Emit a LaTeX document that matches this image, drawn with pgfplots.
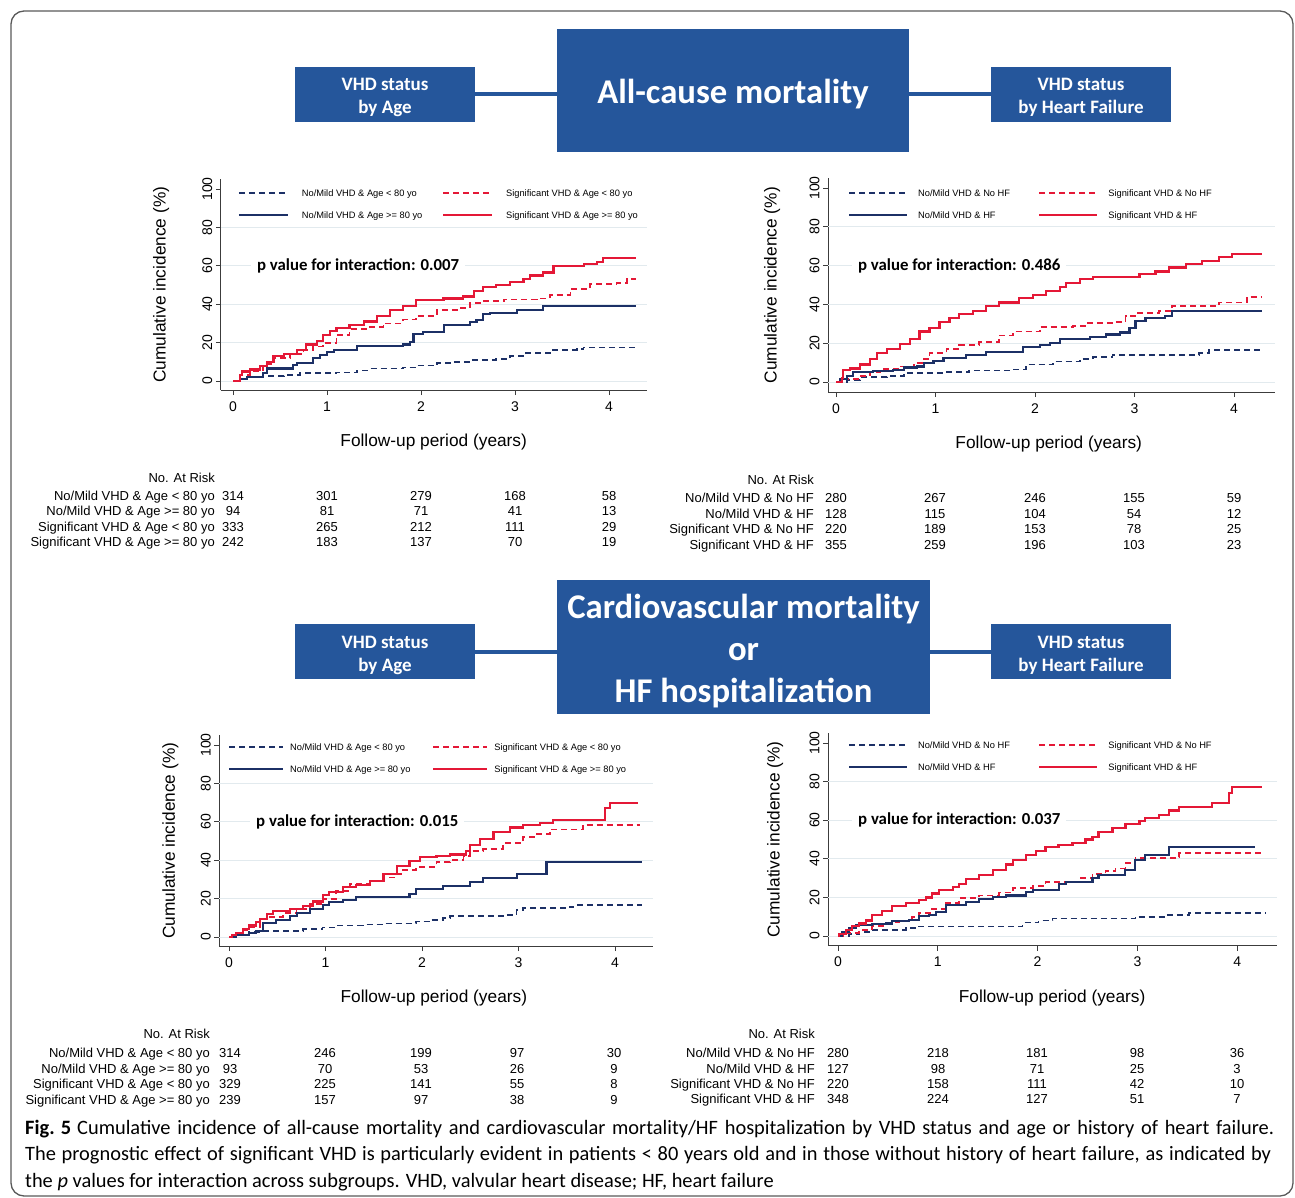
\documentclass[border=0pt]{standalone}
\usepackage{fontspec}
\setmainfont{Liberation Sans}
\newfontfamily\carlito{Carlito}
\usepackage{pgfplots}
\pgfplotsset{compat=1.18}

\definecolor{navyc}{RGB}{28,48,102}
\definecolor{redc}{RGB}{228,24,54}
\definecolor{boxblue}{RGB}{37,86,155}
\definecolor{gridc}{RGB}{226,234,238}
\definecolor{axc}{RGB}{60,60,60}

\newcommand\tickfont{\fontsize{14}{16}\selectfont}
\newcommand\labfont{\fontsize{17.3}{20}\selectfont}
\newcommand\legfont{\fontsize{9.3}{11}\selectfont}
\newcommand\tabfont{\fontsize{13}{15}\selectfont}
\newcommand\pfont{\carlito\bfseries\fontsize{16.8}{19}\selectfont}
\newcommand\capfont{\carlito\fontsize{20.4}{22}\selectfont}
\newcommand\hsmall{\carlito\bfseries\fontsize{19}{23}\selectfont}
\newcommand\hbig{\carlito\bfseries\fontsize{34.7}{42}\selectfont}
\newcommand\strt{\rule[-7.5pt]{0pt}{22pt}}
\newcommand\lentry[3]{\addlegendentry{\hspace*{#1pt}\makebox[#2pt][l]{#3\strt}}}

\newcommand\riskrow[7]{%
  \node[anchor=base east, font=\tabfont, inner sep=0pt] at (\labx pt,-#1pt) {#2};
  \node[anchor=base, font=\tabfont, inner sep=0pt] at (\cA pt,-#1pt) {#3};
  \node[anchor=base, font=\tabfont, inner sep=0pt] at (\cB pt,-#1pt) {#4};
  \node[anchor=base, font=\tabfont, inner sep=0pt] at (\cC pt,-#1pt) {#5};
  \node[anchor=base, font=\tabfont, inner sep=0pt] at (\cD pt,-#1pt) {#6};
  \node[anchor=base, font=\tabfont, inner sep=0pt] at (\cE pt,-#1pt) {#7};
}

\pgfplotsset{
 km/.style={
  axis lines=left,
  axis line style={-, draw=axc, line width=0.9pt},
  tick align=outside,
  major tick length=5pt,
  tick style={draw=axc, line width=0.9pt},
  xtick={0,1,2,3,4},
  ytick={0,20,40,60,80,100},
  /pgf/number format/assume math mode=true,
  ticklabel style={font=\tickfont},
  xticklabel style={yshift=-3pt},
  yticklabel style={rotate=90, anchor=south},
  label style={font=\labfont},
  xlabel={Follow-up period (years)},
  ylabel={Cumulative incidence (\%)},
  extra y ticks={0,20,40,60,80},
  extra y tick labels={},
  extra y tick style={grid=major, major tick length=0pt},
  grid style={draw=gridc, line width=0.9pt},
  const plot,
  legend columns=2,
  legend cell align=left,
  legend style={draw=none, fill=none, anchor=north west, font=\legfont,
     inner sep=0pt, outer sep=0pt, nodes={inner sep=0pt, outer sep=0pt},
     column sep=0pt, row sep=6pt},
  anchor=origin,
 },
 dn/.style={draw=navyc, line width=1.7pt, dash pattern=on 6pt off 4pt},
 dr/.style={draw=redc, line width=1.8pt, dash pattern=on 6pt off 4pt},
 sn/.style={draw=navyc, line width=2.1pt},
 sr/.style={draw=redc, line width=2.2pt},
}

\begin{document}
\begin{tikzpicture}
\useasboundingbox (0pt,0pt) rectangle (1295pt,-1198pt);
\draw[black!65, line width=1.3pt, rounded corners=13pt] (11pt,-11pt) rectangle (1293pt,-1196pt);

% ---------- headers ----------
\draw[boxblue, line width=4pt] (475pt,-94pt) -- (991pt,-94pt);
\fill[boxblue] (295pt,-67pt) rectangle (475pt,-122pt);
\fill[boxblue] (557pt,-29pt) rectangle (909pt,-152pt);
\fill[boxblue] (991pt,-67pt) rectangle (1171pt,-122pt);
\node[inner sep=0pt, text=white, align=center, font=\hsmall] at (385pt,-97.5pt) {VHD status\\by Age};
\node[inner sep=0pt, text=white, font=\hbig] at (733pt,-94.5pt) {All-cause mortality};
\node[inner sep=0pt, text=white, align=center, font=\hsmall] at (1081pt,-97.5pt) {VHD status\\by Heart Failure};

\draw[boxblue, line width=4pt] (475pt,-652pt) -- (991pt,-652pt);
\fill[boxblue] (295pt,-624pt) rectangle (475pt,-679pt);
\fill[boxblue] (557pt,-580pt) rectangle (930pt,-714pt);
\fill[boxblue] (991pt,-624pt) rectangle (1171pt,-679pt);
\node[inner sep=0pt, text=white, align=center, font=\hsmall] at (385pt,-655.5pt) {VHD status\\by Age};
\node[inner sep=0pt, text=white, align=center, font=\hbig] at (743.5pt,-651pt) {Cardiovascular mortality\\or\\HF hospitalization};
\node[inner sep=0pt, text=white, align=center, font=\hsmall] at (1081pt,-655.5pt) {VHD status\\by Heart Failure};

% ---------- panel 1 ----------
\begin{axis}[km, x=94pt, y=1.92pt, at={(233pt,-381pt)},
  xmin=-0.13, xmax=4.4, ymin=-4.7, ymax=105,
  ylabel style={at={(axis description cs:-0.140,0.5)}, anchor=center},
  xlabel style={at={(axis description cs:0.5,-0.247)}, anchor=center},
  legend style={at={(0.040,0.987)}},
  legend image code/.code={\draw[#1] (0pt,-2.7pt) -- (49pt,-2.7pt);}]
\addplot[dn] coordinates {(0,0) (0.074,1) (0.18,2) (0.32,2.5) (0.54,3) (0.71,4) (1.10,4.5) (1.32,5.5) (1.46,6.5) (1.81,7) (1.95,8) (2.17,9.5) (2.31,10) (2.52,11) (2.80,11.5) (2.95,13) (3.12,14.5) (3.37,16) (3.66,16.5) (3.73,17.5) (4.29,17.5)};
\lentry{13}{140}{No/Mild VHD \& Age < 80 yo}
\addplot[dr] coordinates {(0,0) (0.074,3) (0.18,5) (0.32,9) (0.43,12) (0.61,14) (0.75,16) (0.85,18) (0.96,20) (1.10,24) (1.24,27) (1.46,28) (1.60,30) (1.81,32) (1.95,34) (2.17,37) (2.38,38) (2.52,40.5) (2.66,41.5) (2.88,42.5) (3.23,43) (3.37,45) (3.59,48) (3.80,50.5) (4.08,51) (4.19,53) (4.29,53)};
\lentry{13}{140}{Significant VHD \& Age < 80 yo}
\addplot[sn] coordinates {(0,0) (0.074,1) (0.145,2) (0.32,4) (0.36,6.5) (0.64,8.5) (0.68,9.5) (0.85,12) (0.93,13.5) (1.00,15) (1.07,16) (1.32,18) (1.81,19) (1.88,20.5) (1.92,24.5) (2.02,25.5) (2.24,29) (2.52,30.5) (2.59,32) (2.66,35) (2.73,35.5) (3.02,37) (3.30,39) (4.29,39)};
\lentry{13}{140}{No/Mild VHD \& Age >= 80 yo}
\addplot[sr] coordinates {(0,0) (0.074,3) (0.092,5) (0.18,6) (0.29,8) (0.36,10) (0.43,13) (0.54,14) (0.68,16) (0.78,19) (0.89,21) (0.96,24) (1.03,26) (1.10,27.5) (1.24,29) (1.39,31) (1.53,34) (1.67,37) (1.81,39) (1.95,42) (2.24,43) (2.45,44) (2.56,47) (2.66,49) (2.80,50) (2.95,51.5) (3.09,53) (3.16,55) (3.30,56.5) (3.41,60) (3.73,61) (3.87,62) (3.94,64) (4.29,64)};
\lentry{13}{140}{Significant VHD \& Age >= 80 yo}
\node[anchor=west, fill=white, inner xsep=6pt, inner ysep=2pt, font=\pfont] at (axis cs:0.19,60) {p value for interaction: 0.007};
\end{axis}

% ---------- panel 2 ----------
\begin{axis}[km, x=99.5pt, y=1.94pt, at={(836pt,-382pt)},
  xmin=-0.08, xmax=4.41, ymin=-5.2, ymax=105,
  ylabel style={at={(axis description cs:-0.125,0.5)}, anchor=center},
  xlabel style={at={(axis description cs:0.494,-0.243)}, anchor=center},
  legend style={at={(0.0448,0.982)}},
  legend image code/.code={\draw[#1] (0pt,-2.7pt) -- (58pt,-2.7pt);}]
\addplot[dn] coordinates {(0,0) (0.11,1) (0.24,2.5) (0.51,3) (0.68,4.5) (1.11,5) (1.34,6) (1.78,6.5) (1.91,9) (2.18,10.5) (2.45,12) (2.58,13) (2.78,14) (3.65,15) (3.75,16.5) (4.28,16.5)};
\lentry{10}{120}{No/Mild VHD \& No HF}
\addplot[dr] coordinates {(0,0) (0.074,1.5) (0.24,3) (0.34,5) (0.44,6.5) (0.64,8) (0.78,10) (0.88,12) (0.94,15) (1.11,17) (1.24,19) (1.44,20.5) (1.64,24) (1.78,26) (2.05,28.5) (2.38,29) (2.51,30.5) (2.81,31) (2.91,34) (3.01,35.5) (3.25,36.5) (3.38,39) (3.85,41) (4.13,44) (4.28,44)};
\lentry{10}{120}{Significant VHD \& No HF}
\addplot[sn] coordinates {(0,0) (0.04,1.5) (0.11,3) (0.17,5) (0.37,5.5) (0.57,6) (0.68,7.5) (0.81,8) (0.88,10) (0.98,11) (1.08,12.5) (1.31,14) (1.51,15.5) (1.88,18) (2.05,19) (2.15,20) (2.25,22) (2.55,23) (2.71,24.5) (2.85,25.5) (2.95,28) (3.01,31.5) (3.11,33) (3.31,34) (3.38,36.5) (4.28,36.5)};
\lentry{10}{120}{No/Mild VHD \& HF}
\addplot[sr] coordinates {(0,0) (0.057,2) (0.074,6) (0.14,7) (0.24,9) (0.34,12) (0.41,15) (0.51,17) (0.64,19.5) (0.74,22) (0.84,26) (0.94,28) (1.04,31) (1.14,33) (1.24,35) (1.38,36.5) (1.51,39) (1.64,41) (1.84,43.5) (1.98,45) (2.11,47) (2.25,49) (2.31,51) (2.45,53) (2.58,54) (2.91,54) (3.05,55.5) (3.21,57) (3.35,59) (3.52,61) (3.68,62.5) (3.85,64.5) (3.98,66) (4.28,66)};
\lentry{10}{120}{Significant VHD \& HF}
\node[anchor=west, fill=white, inner xsep=6pt, inner ysep=2pt, font=\pfont] at (axis cs:0.16,60) {p value for interaction: 0.486};
\end{axis}

% ---------- panel 3 ----------
\begin{axis}[km, x=96.5pt, y=1.92pt, at={(229pt,-937pt)},
  xmin=-0.1, xmax=4.39, ymin=-4.7, ymax=105,
  ylabel style={at={(axis description cs:-0.113,0.5)}, anchor=center},
  xlabel style={at={(axis description cs:0.495,-0.247)}, anchor=center},
  legend style={at={(0.020,0.996)}},
  legend image code/.code={\draw[#1] (0pt,-2.7pt) -- (54pt,-2.7pt);}]
\addplot[dn] coordinates {(0,0) (0.076,1) (0.21,2.5) (0.35,3) (0.77,4) (0.97,5) (1.11,6) (1.39,6.5) (1.60,7) (1.94,8) (2.08,9) (2.22,10) (2.29,11) (2.84,11.5) (2.98,14) (3.05,15) (3.53,15.5) (3.57,16.5) (4.28,16.5)};
\lentry{6}{142}{No/Mild VHD \& Age < 80 yo}
\addplot[dr] coordinates {(0,0) (0.076,2) (0.145,3.5) (0.21,5) (0.32,7.5) (0.42,10.5) (0.56,12.5) (0.70,14.5) (0.84,17) (0.97,20) (1.11,24) (1.25,27.5) (1.46,29) (1.60,31) (1.74,33) (1.80,35) (1.94,36.5) (2.15,39) (2.29,40) (2.43,42) (2.50,45) (2.63,46) (2.84,49) (3.05,52) (3.19,53.5) (3.33,56) (3.67,58.5) (4.26,58.5)};
\lentry{6}{142}{Significant VHD \& Age < 80 yo}
\addplot[sn] coordinates {(0,0) (0.076,1) (0.21,2) (0.28,3) (0.35,7.5) (0.49,9) (0.63,11) (0.70,12.5) (0.84,14.5) (0.97,16.5) (1.04,18) (1.18,19.5) (1.32,21) (1.87,22.5) (1.94,25) (2.22,26.5) (2.50,28.5) (2.63,30.5) (2.98,33) (3.29,39) (4.28,39)};
\lentry{6}{142}{No/Mild VHD \& Age >= 80 yo}
\addplot[sr] coordinates {(0,0) (0.03,1) (0.076,2) (0.145,4) (0.21,6) (0.28,8) (0.32,9.5) (0.39,12) (0.46,13.5) (0.63,14.5) (0.77,16) (0.87,18.5) (0.97,22) (1.04,23.5) (1.18,26) (1.32,27) (1.46,29) (1.60,33) (1.74,37) (1.87,39.5) (1.98,41.5) (2.15,42) (2.29,43) (2.46,45) (2.50,48) (2.60,51) (2.74,54.5) (2.91,57) (3.05,58.5) (3.22,59.5) (3.36,61) (3.90,67) (3.95,70) (4.24,70)};
\lentry{6}{142}{Significant VHD \& Age >= 80 yo}
\node[anchor=west, fill=white, inner xsep=6pt, inner ysep=2pt, font=\pfont] at (axis cs:0.218,60) {p value for interaction: 0.015};
\end{axis}

% ---------- panel 4 ----------
\begin{axis}[km, x=99.8pt, y=1.93pt, at={(838pt,-936pt)},
  xmin=-0.1, xmax=4.40, ymin=-5, ymax=105,
  ylabel style={at={(axis description cs:-0.118,0.5)}, anchor=center},
  xlabel style={at={(axis description cs:0.499,-0.245)}, anchor=center},
  legend style={at={(0.0445,0.996)}},
  legend image code/.code={\draw[#1] (0pt,-2.7pt) -- (58pt,-2.7pt);}]
\addplot[dn] coordinates {(0,0) (0.11,1) (0.21,2) (0.31,3) (0.68,4) (0.81,5) (1.85,7) (2.01,8) (2.15,9) (2.98,10) (3.28,11) (3.52,12) (4.28,12)};
\lentry{10}{120}{No/Mild VHD \& No HF}
\addplot[dr] coordinates {(0,0) (0.077,1.5) (0.21,3) (0.34,5) (0.48,7) (0.61,8) (0.74,10) (0.81,12) (0.94,14) (1.08,17) (1.21,19.5) (1.41,21) (1.61,22.5) (1.75,25) (1.95,26) (2.08,28) (2.41,30) (2.55,32) (2.68,33.5) (2.78,35) (2.88,38) (2.98,40.5) (3.38,41) (3.42,43) (4.25,43)};
\lentry{10}{120}{Significant VHD \& No HF}
\addplot[sn] coordinates {(0,0) (0.04,2) (0.11,4) (0.18,5.5) (0.34,6) (0.48,6.5) (0.54,8) (0.71,8.5) (0.81,10.5) (0.91,11) (0.98,12.5) (1.08,16) (1.28,17.5) (1.41,19) (1.55,20) (1.68,21) (1.88,23) (1.95,24) (2.21,27) (2.28,28) (2.55,30) (2.61,31.5) (2.88,34) (2.98,39.5) (3.08,42) (3.32,46) (4.18,46)};
\lentry{10}{120}{No/Mild VHD \& HF}
\addplot[sr] coordinates {(0,0) (0.01,1) (0.077,3) (0.14,5) (0.21,6.5) (0.28,8) (0.34,11) (0.44,13) (0.54,15.5) (0.68,17) (0.81,18.5) (0.88,20) (0.94,22) (1.01,24) (1.15,25.5) (1.21,27) (1.28,29.5) (1.41,31.5) (1.55,34) (1.68,37) (1.75,39.5) (1.88,42) (1.98,44) (2.08,46) (2.21,47) (2.35,48) (2.48,50) (2.55,51.5) (2.61,54) (2.75,56) (2.88,58) (3.02,59.5) (3.08,61) (3.22,62.5) (3.32,65) (3.42,67) (3.75,69) (3.92,74) (3.95,77) (4.25,77)};
\lentry{10}{120}{Significant VHD \& HF}
\node[anchor=west, fill=white, inner xsep=6pt, inner ysep=2pt, font=\pfont] at (axis cs:0.14,60) {p value for interaction: 0.037};
\end{axis}

% ---------- at-risk tables ----------
\def\labx{215}\def\cA{233}\def\cB{327}\def\cC{421}\def\cD{515}\def\cE{609}
\node[anchor=base east, font=\tabfont, inner sep=0pt] at (\labx pt,-482pt) {No. At Risk};
\riskrow{500}{No/Mild VHD \& Age < 80 yo}{314}{301}{279}{168}{58}
\riskrow{515}{No/Mild VHD \& Age >= 80 yo}{94}{81}{71}{41}{13}
\riskrow{531}{Significant VHD \& Age < 80 yo}{333}{265}{212}{111}{29}
\riskrow{546}{Significant VHD \& Age >= 80 yo}{242}{183}{137}{70}{19}

\def\labx{814}\def\cA{836}\def\cB{935}\def\cC{1035}\def\cD{1134}\def\cE{1234}
\node[anchor=base east, font=\tabfont, inner sep=0pt] at (\labx pt,-484pt) {No. At Risk};
\riskrow{502}{No/Mild VHD \& No HF}{280}{267}{246}{155}{59}
\riskrow{518}{No/Mild VHD \& HF}{128}{115}{104}{54}{12}
\riskrow{533}{Significant VHD \& No HF}{220}{189}{153}{78}{25}
\riskrow{549}{Significant VHD \& HF}{355}{259}{196}{103}{23}

\def\labx{210}\def\cA{230}\def\cB{325}\def\cC{421}\def\cD{517}\def\cE{614}
\node[anchor=base east, font=\tabfont, inner sep=0pt] at (\labx pt,-1038pt) {No. At Risk};
\riskrow{1057}{No/Mild VHD \& Age < 80 yo}{314}{246}{199}{97}{30}
\riskrow{1073}{No/Mild VHD \& Age >= 80 yo}{93}{70}{53}{26}{9}
\riskrow{1088}{Significant VHD \& Age < 80 yo}{329}{225}{141}{55}{8}
\riskrow{1104}{Significant VHD \& Age >= 80 yo}{239}{157}{97}{38}{9}

\def\labx{815}\def\cA{838}\def\cB{938}\def\cC{1037}\def\cD{1137}\def\cE{1237}
\node[anchor=base east, font=\tabfont, inner sep=0pt] at (\labx pt,-1038pt) {No. At Risk};
\riskrow{1057}{No/Mild VHD \& No HF}{280}{218}{181}{98}{36}
\riskrow{1073}{No/Mild VHD \& HF}{127}{98}{71}{25}{3}
\riskrow{1088}{Significant VHD \& No HF}{220}{158}{111}{42}{10}
\riskrow{1103}{Significant VHD \& HF}{348}{224}{127}{51}{7}

% ---------- caption ----------
\node[anchor=base west, font=\capfont, inner sep=0pt] at (25pt,-1134pt) {\makebox[1249pt][s]{\mbox{\textbf{Fig. 5}}\hspace{6pt}Cumulative incidence of all-cause mortality and cardiovascular mortality/HF hospitalization by VHD status and age or history of heart failure.}};
\node[anchor=base west, font=\capfont, inner sep=0pt] at (25pt,-1160pt) {\makebox[1246pt][s]{The prognostic effect of significant VHD is particularly evident in patients < 80 years old and in those without history of heart failure, as indicated by}};
\node[anchor=base west, font=\capfont, inner sep=0pt] at (25pt,-1187pt) {the \textit{p} values for interaction across subgroups. VHD, valvular heart disease; HF, heart failure};
\end{tikzpicture}
\end{document}
